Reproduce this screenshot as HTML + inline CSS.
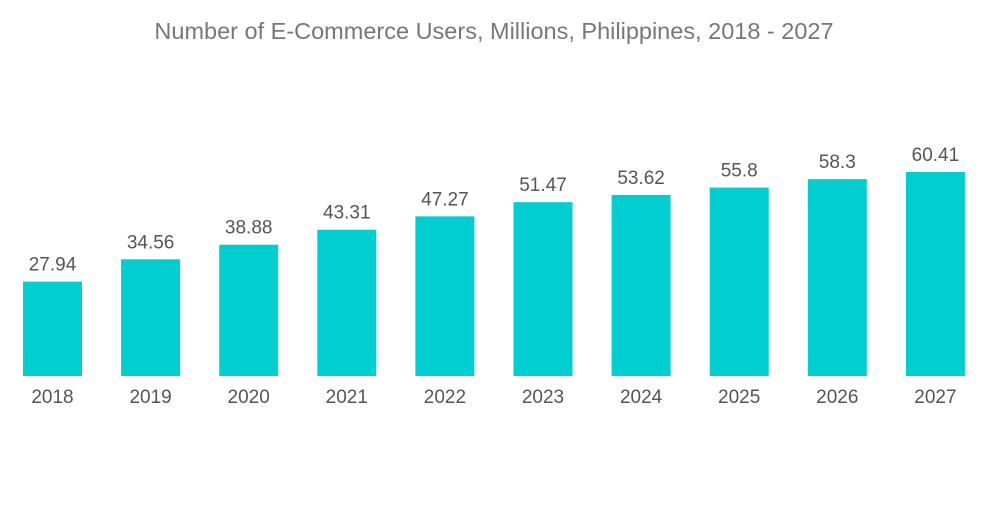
<!DOCTYPE html>
<html>
<head>
<meta charset="utf-8">
<style>
  html, body { margin: 0; padding: 0; background: #ffffff; }
  body { width: 1000px; height: 504px; overflow: hidden; font-family: "Liberation Sans", sans-serif; }
  svg text { font-family: "Liberation Sans", sans-serif; }
</style>
</head>
<body>
<svg id="chart" width="1000" height="504" viewBox="0 0 1000 504" xmlns="http://www.w3.org/2000/svg">
  <text x="494" y="39" text-anchor="middle" font-size="23.5" fill="#777777">Number of E-Commerce Users, Millions, Philippines, 2018 - 2027</text>
  <g id="bars"></g>
</svg>
<script>
const categories = ["2018", "2019", "2020", "2021", "2022", "2023", "2024", "2025", "2026", "2027"];
const values = [27.94, 34.56, 38.88, 43.31, 47.27, 51.47, 53.62, 55.8, 58.3, 60.41];
const valueLabels = ["27.94", "34.56", "38.88", "43.31", "47.27", "51.47", "53.62", "55.8", "58.3", "60.41"];

const baseline = 376, pxPerUnit = 3.377, firstCenter = 52.5, step = 98.1, barW = 59;
const yScale = v => baseline - v * pxPerUnit;
const xScale = i => firstCenter + i * step;
const NS = "http://www.w3.org/2000/svg";
const g = document.getElementById("bars");

categories.forEach((c, i) => {
  const cx = xScale(i), top = yScale(values[i]);
  const r = document.createElementNS(NS, "rect");
  r.setAttribute("x", cx - barW / 2);
  r.setAttribute("y", top);
  r.setAttribute("width", barW);
  r.setAttribute("height", baseline - top);
  r.setAttribute("fill", "#00CED1");
  
  
  g.appendChild(r);

  const t = document.createElementNS(NS, "text");
  t.setAttribute("x", cx);
  t.setAttribute("y", top - 11);
  t.setAttribute("text-anchor", "middle");
  t.setAttribute("font-size", "19");
  t.setAttribute("fill", "#555555");
  t.textContent = valueLabels[i];
  
  
  g.appendChild(t);

  const x = document.createElementNS(NS, "text");
  x.setAttribute("x", cx);
  x.setAttribute("y", 403);
  x.setAttribute("text-anchor", "middle");
  x.setAttribute("font-size", "19");
  x.setAttribute("fill", "#555555");
  x.textContent = c;
  
  
  g.appendChild(x);
});
</script>
</body>
</html>
